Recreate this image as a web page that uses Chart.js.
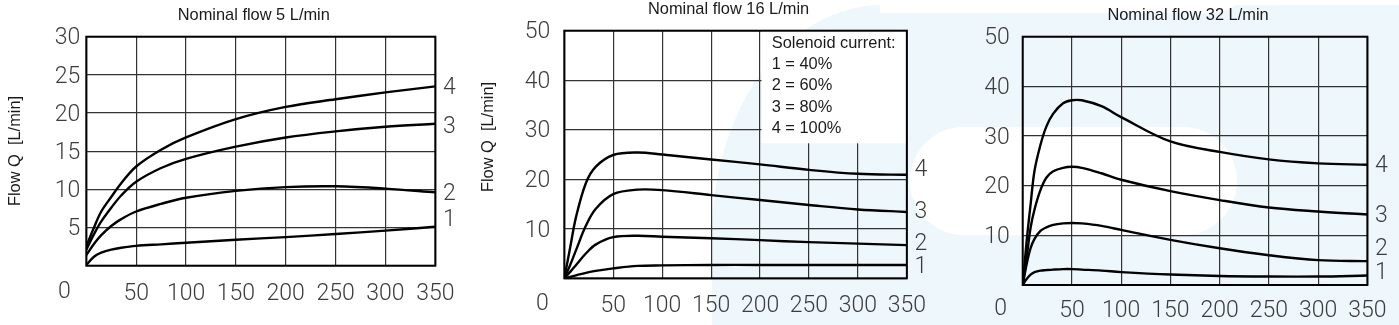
<!DOCTYPE html>
<html>
<head>
<meta charset="utf-8">
<script src="https://cdn.jsdelivr.net/npm/chart.js@4.4.1/dist/chart.umd.min.js"></script>
<style>
  body { margin: 0; background: #fff; }
  #page { position: relative; width: 1399px; height: 325px; overflow: hidden; background: #fff; }
  .wm { position: absolute; }
  canvas { position: absolute; top: 0; }
</style>
</head>
<body>
<div id="page">
  <!-- faint logo watermark behind the charts -->
  <div class="wm" style="left:712px;top:5px;width:700px;height:330px;background:#eef7fc;border-top-left-radius:170px 230px;"></div>
  <div class="wm" style="left:880px;top:0;width:357px;height:13px;background:#fff;border-bottom-right-radius:30px 13px;"></div>
  <div class="wm" style="left:910px;top:127px;width:327px;height:108px;background:#fff;border-radius:55px;"></div>
  <canvas id="c5" width="470" height="325" style="left:0"></canvas>
  <canvas id="c16" width="470" height="325" style="left:470px"></canvas>
  <canvas id="c32" width="469" height="325" style="left:930px"></canvas>
</div>
<script>
const xTicks = [0, 50, 100, 150, 200, 250, 300, 350];
const flow5YTicks = [0, 5, 10, 15, 20, 25, 30];
const flow16YTicks = [0, 10, 20, 30, 40, 50];
const flow32YTicks = [0, 10, 20, 30, 40, 50];
const curveNames = ['1', '2', '3', '4'];
const legendLines = ['Solenoid current:', '1 = 40%', '2 = 60%', '3 = 80%', '4 = 100%'];
const yTitle = 'Flow Q  [L/min]';

// Nominal flow 5 L/min
const flow5X  = [0, 8, 15, 25, 35, 50, 75, 100, 150, 200, 250, 300, 350];
const flow5Q1 = [0.1, 1.2, 1.7, 2.1, 2.35, 2.6, 2.8, 3.0, 3.4, 3.75, 4.15, 4.6, 5.1];
const flow5Q2 = [1.4, 2.9, 4.0, 5.2, 6.1, 7.1, 8.1, 8.9, 9.8, 10.3, 10.4, 10.1, 9.6];
const flow5Q3 = [2.1, 4.2, 5.8, 7.6, 9.2, 11.0, 12.8, 14.0, 15.6, 16.8, 17.6, 18.2, 18.6];
const flow5Q4 = [2.5, 5.1, 7.1, 9.0, 10.8, 13.0, 15.2, 16.8, 19.2, 20.8, 21.8, 22.7, 23.5];
const flow5LabelAt = [6.1, 9.5, 18.3, 23.4];

// Nominal flow 16 L/min
const flow16X  = [0, 6, 12, 22, 32, 50, 75, 100, 150, 200, 250, 300, 350];
const flow16Q1 = [0, 0.3, 0.6, 1.1, 1.5, 2.0, 2.5, 2.6, 2.7, 2.7, 2.7, 2.7, 2.7];
const flow16Q2 = [0, 1.3, 2.7, 5.0, 6.8, 8.3, 8.6, 8.4, 8.1, 7.7, 7.3, 7.0, 6.7];
const flow16Q3 = [0, 2.7, 5.7, 10.6, 14.0, 17.0, 17.9, 17.8, 16.8, 15.8, 14.8, 13.9, 13.4];
const flow16Q4 = [0, 6.2, 12.4, 19.2, 22.5, 24.9, 25.4, 25.0, 24.0, 23.0, 21.9, 21.1, 20.9];
const flow16LabelAt = [2.5, 7.1, 13.5, 22.1];

// Nominal flow 32 L/min
const flow32X  = [0, 4, 8, 12, 18, 24, 31, 41, 50, 60, 80, 100, 150, 200, 250, 300, 350];
const flow32Q1 = [0, 1.2, 2.1, 2.6, 2.9, 3.0, 3.1, 3.2, 3.2, 3.1, 2.9, 2.6, 2.1, 1.8, 1.7, 1.7, 1.9];
const flow32Q2 = [0, 4.2, 7.4, 9.3, 10.9, 11.6, 12.1, 12.4, 12.5, 12.4, 11.9, 11.1, 9.1, 7.4, 6.0, 5.0, 4.8];
const flow32Q3 = [0, 5.5, 11.5, 15.2, 19.1, 21.6, 22.9, 23.6, 23.8, 23.6, 22.5, 21.2, 18.9, 17.1, 15.6, 14.8, 14.2];
const flow32Q4 = [0, 8.8, 16.2, 23.0, 28.2, 31.9, 34.5, 36.6, 37.2, 37.2, 36.0, 33.8, 28.9, 26.8, 25.3, 24.5, 24.2];
const flow32LabelAt = [2.6, 7.4, 14.1, 24.1];

const TICK_FONT = { family: 'Roboto', size: 23, weight: '300' };
const TICK_COLOR = '#3c3c3c';
const TEXT_FONT = '16.4px "Liberation Sans", Arial, sans-serif';
const TEXT_COLOR = '#1a1a1a';

const decor = {
    id: 'decor',
    beforeDatasetsDraw(chart, args, o) {
        const { ctx, chartArea: a } = chart;
        ctx.save();
        if (o.legend) {
            ctx.fillStyle = '#fff';
            ctx.fillRect(o.legend.x, a.top, a.right - o.legend.x, o.legend.bottom - a.top);
        }
        ctx.strokeStyle = '#000';
        ctx.lineWidth = 2;
        ctx.strokeRect(a.left, a.top, a.right - a.left, a.bottom - a.top);
        ctx.restore();
    },
    afterDraw(chart, args, o) {
        const { ctx, chartArea: a } = chart;
        const yScale = chart.scales.y;

        ctx.save();
        ctx.font = TEXT_FONT;
        ctx.fillStyle = TEXT_COLOR;
        ctx.textAlign = 'center';
        ctx.textBaseline = 'middle';
        ctx.fillText(o.title, (a.left + a.right) / 2 - 7, o.titleY);

        if (o.yTitle) {
            ctx.save();
            ctx.translate(o.yTitle.x, o.yTitle.y);
            ctx.rotate(-Math.PI / 2);
            ctx.fillText(yTitle, 0, 0);
            ctx.restore();
        }

        if (o.legend) {
            ctx.textAlign = 'left';
            legendLines.forEach((line, i) => {
                ctx.fillText(line, o.legend.textX, o.legend.textY + i * 21.25);
            });
        }

        // corner "0" and curve numbers in the drawing font
        ctx.font = `${TICK_FONT.weight} ${TICK_FONT.size}px ${TICK_FONT.family}`;
        ctx.fillStyle = TICK_COLOR;
        ctx.textAlign = 'center';
        ctx.fillText('0', a.left - 22, a.bottom + o.zeroDy);
        o.labelAt.forEach((v, i) => {
            ctx.fillText(curveNames[i], a.right + 14, yScale.getPixelForValue(v) + 1);
        });
        ctx.restore();
    }
};

function makeChart(id, xs, series, yTicks, box, extra) {
    const datasets = series.map((s, i) => ({
        label: curveNames[i],
        data: xs.map((x, j) => ({ x, y: s[j] })),
        borderColor: '#000',
        borderWidth: 2.4,
        pointRadius: 0,
        fill: false,
        tension: 0.35
    }));

    new Chart(document.getElementById(id).getContext('2d'), {
        type: 'line',
        data: { datasets },
        options: {
            responsive: false,
            animation: false,
            devicePixelRatio: 1,
            layout: { padding: { left: 0, top: box.top, right: box.right, bottom: 0 } },
            plugins: {
                legend: { display: false },
                tooltip: { enabled: false },
                decor: extra
            },
            scales: {
                x: {
                    type: 'linear',
                    min: 0,
                    max: 350,
                    afterBuildTicks: (s) => { s.ticks = xTicks.map(v => ({ value: v })); },
                    afterFit: (s) => { s.height = box.bottom; },
                    grid: { color: '#333', lineWidth: 1.2, drawTicks: false },
                    border: { display: false },
                    ticks: {
                        font: TICK_FONT,
                        color: TICK_COLOR,
                        padding: box.xPad,
                        maxRotation: 0,
                        autoSkip: false,
                        callback: v => (v === 0 ? '' : v)
                    }
                },
                y: {
                    min: yTicks[0],
                    max: yTicks[yTicks.length - 1],
                    afterBuildTicks: (s) => { s.ticks = yTicks.map(v => ({ value: v })); },
                    afterFit: (s) => { s.width = box.left; },
                    grid: { color: '#333', lineWidth: 1.2, drawTicks: false },
                    border: { display: false },
                    ticks: {
                        font: TICK_FONT,
                        color: TICK_COLOR,
                        padding: box.yPad,
                        labelOffset: 2,
                        callback: v => (v === 0 ? '' : v)
                    }
                }
            }
        },
        plugins: [decor]
    });
}

makeChart('c5', flow5X, [flow5Q1, flow5Q2, flow5Q3, flow5Q4], flow5YTicks,
    { left: 86.3, right: 34.7, top: 36.7, bottom: 59.3, xPad: 15, yPad: 6 },
    { title: 'Nominal flow 5 L/min', titleY: 15.7, yTitle: { x: 15, y: 151 },
      zeroDy: 27, labelAt: flow5LabelAt });

makeChart('c16', flow16X, [flow16Q1, flow16Q2, flow16Q3, flow16Q4], flow16YTicks,
    { left: 94.3, right: 27.7, top: 30.7, bottom: 46.7, xPad: 14, yPad: 14 },
    { title: 'Nominal flow 16 L/min', titleY: 9.3, yTitle: { x: 18, y: 137 },
      zeroDy: 26, labelAt: flow16LabelAt,
      legend: { x: 291.5, bottom: 143.3, textX: 301.7, textY: 43.3 } });

makeChart('c32', flow32X, [flow32Q1, flow32Q2, flow32Q3, flow32Q4], flow32YTicks,
    { left: 92.7, right: 27.7, top: 36.7, bottom: 40, xPad: 12.5, yPad: 13 },
    { title: 'Nominal flow 32 L/min', titleY: 15, zeroDy: 24.5, labelAt: flow32LabelAt });
</script>
</body>
</html>
